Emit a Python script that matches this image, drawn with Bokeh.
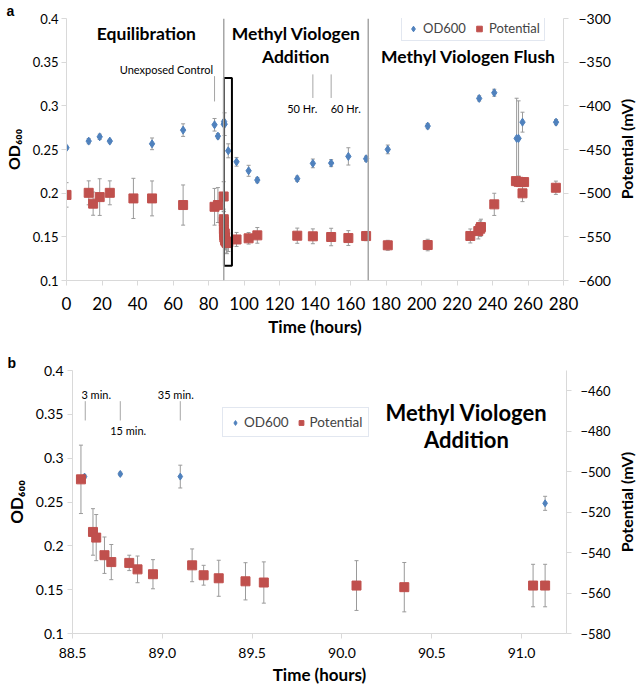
import numpy as np
from bokeh.plotting import figure
from bokeh.models import (Range1d, LinearAxis, FixedTicker, CustomJSTickFormatter,
                          PrintfTickFormatter, Span, Label, Legend, LegendItem)
from bokeh.layouts import column, row
from bokeh.embed import file_html
from bokeh.resources import INLINE

# ---------------- data ----------------
# Panel b (zoom on methyl viologen addition); these points also appear in panel a
b_od_hours = [88.567, 88.766, 89.100, 91.131]
b_od = [0.279, 0.282, 0.279, 0.2485]
b_od_err = [0.002, 0.002, 0.013, 0.008]
b_pot_hours = [88.547, 88.614, 88.632, 88.678, 88.716, 88.816, 88.862, 88.948, 89.166,
               89.230, 89.314, 89.463, 89.565, 90.081, 90.347, 91.064, 91.131]
b_pot = [-503.8, -529.8, -532.6, -541.3, -544.7, -545.1, -548.3, -550.7, -546.3,
         -551.2, -552.7, -554.2, -554.8, -556.3, -557.1, -556.3, -556.3]
b_pot_err = [16.9, 11.5, 11.4, 9.0, 8.7, 3.8, 6.6, 7.2, 8.1, 4.9, 8.9, 9.2, 10.2,
             12.3, 12.2, 10.5, 10.5]

# Panel a, remaining points
a_od_hours = [0, 12.5, 18.7, 24.4, 48.2, 65.7, 83.4, 85.3, 95.8, 102.6, 107.5, 130,
              138.8, 149.1, 158.8, 168.8, 181, 203.5, 232.5, 241, 253.6, 254.7, 256.9, 275.8]
a_od = [0.252, 0.2596, 0.2645, 0.2596, 0.2565, 0.2722, 0.2783, 0.2653, 0.2359, 0.2256,
        0.215, 0.2165, 0.2341, 0.2344, 0.2421, 0.2394, 0.2501, 0.2768, 0.3085, 0.315,
        0.2627, 0.2627, 0.2813, 0.2813]
a_od_err = [0.002, 0.003, 0.003, 0.002, 0.0067, 0.0072, 0.0072, 0.003, 0.005, 0.0063,
            0.003, 0.003, 0.005, 0.004, 0.0099, 0.003, 0.005, 0.003, 0.003, 0.004,
            0.046, 0.043, 0.0114, 0.003]
a_pot_hours = [0, 12.5, 15, 18.7, 24.4, 37.7, 48.2, 65.7, 83.4, 85.3, 95.8, 102.6, 107.5,
               130, 138.8, 149.1, 158.8, 168.8, 181, 203.5, 227.5, 232, 233.1, 233.5, 241,
               253.2, 254.7, 256, 257.8, 256.9, 275.7]
a_pot = [-502, -499.6, -512, -504.5, -499.6, -506, -506, -513.6, -515.6, -513.6, -553,
         -551.7, -548.3, -548.7, -549.4, -550.2, -551.4, -549.1, -559.7, -559.4, -549,
         -543.4, -540.7, -538.8, -512.8, -486.2, -487, -487.3, -487.3, -500.2, -493.8]
a_pot_err = [14, 13.7, 13.3, 21, 13.7, 23, 20, 23, 21, 20, 8, 6.6, 9, 8.7, 8.5, 10, 8.5,
             5.3, 5.7, 6.6, 8, 9, 9, 9, 12.7, 3, 3, 3, 3, 9.5, 7.6]

od_ticks = [0.1, 0.15, 0.2, 0.25, 0.3, 0.35, 0.4]
a_hour_ticks = list(range(0, 281, 20))
a_pot_ticks = list(range(-600, -299, 50))
b_hour_ticks = [88.5, 89.0, 89.5, 90.0, 90.5, 91.0]
b_pot_ticks = list(range(-580, -459, 20))

# phase boundaries and annotations (panel a)
a_phase_lines = [88.6, 170]
a_box = dict(left=88.7, right=93.2, bottom=0.117, top=0.332)
a_sections = [("Equilibration", 45, 0.383), ("Methyl Viologen", 129.4, 0.383),
              ("Addition", 129.1, 0.357), ("Methyl Viologen Flush", 226.4, 0.357)]
a_notes = [("Unexposed Control", 56.3, 0.342), ("50 Hr.", 132.8, 0.297), ("60 Hr.", 157.3, 0.297)]
a_note_lines = [(83.4, 0.305, 0.334), (138.8, 0.309, 0.336), (149.1, 0.309, 0.336)]
# panel b annotations
b_sections = [("Methyl Viologen", 90.693, 0.3525), ("Addition", 90.693, 0.3213)]
b_notes = [("3 min.", 88.632, 0.3727), ("15 min.", 88.81, 0.331), ("35 min.", 89.075, 0.3727)]
b_note_lines = [(88.571, 0.343, 0.365), (88.766, 0.343, 0.365), (89.100, 0.343, 0.365)]

BLUE = "#4F81BD"
RED = "#C0504D"
ERR = "#9a9a9a"
AXC = "#d9d9d9"
FONT = "Lato"
MAIN_W = 614
SIDE_W = 638 - MAIN_W

od_fmt = CustomJSTickFormatter(code="return String(Math.round(tick*100)/100)")


def style_axis(ax, size):
    ax.axis_line_color = AXC
    ax.major_tick_line_color = AXC
    ax.minor_tick_line_color = None
    ax.major_tick_out = 5
    ax.major_tick_in = 0
    ax.major_label_text_font = FONT
    ax.major_label_text_font_size = size
    ax.major_label_text_color = "#000000"
    ax.axis_label_text_font = FONT
    ax.axis_label_text_font_style = "bold"
    ax.axis_label_text_font_size = "17px"
    ax.axis_label_text_color = "#000000"


def errbars(p, x, y, e, rng="default"):
    lo = [a - b for a, b in zip(y, e)]
    hi = [a + b for a, b in zip(y, e)]
    p.segment(x0=x, y0=lo, x1=x, y1=hi, line_color=ERR, line_width=1, y_range_name=rng)
    p.scatter(x=list(x) + list(x), y=lo + hi, marker="dash", size=4, line_color=ERR,
              line_width=1, y_range_name=rng)


def base_fig(height, xr, yr, pr, borders, tag, tag_offset):
    p = figure(width=MAIN_W, height=height, x_range=xr, y_range=yr,
               output_backend="svg", toolbar_location=None,
               min_border_left=borders[0], min_border_right=borders[1],
               min_border_top=borders[2], min_border_bottom=borders[3])
    if "frame_align" in p.properties():
        p.frame_align = False
    p.extra_y_ranges = {"pot": pr}
    p.xgrid.visible = False
    p.ygrid.visible = False
    p.outline_line_color = None
    p.background_fill_color = "white"
    p.border_fill_color = "white"
    p.title.text = tag
    p.title.align = "left"
    p.title.offset = tag_offset
    p.title.standoff = 0
    p.title.text_font = "Liberation Sans"
    p.title.text_font_style = "bold"
    p.title.text_font_size = "14px"
    p.title.text_color = "#000000"
    return p


def right_axis(p, ticks, size, standoff):
    ax = LinearAxis(y_range_name="pot", ticker=FixedTicker(ticks=ticks))
    style_axis(ax, size)
    ax.major_label_standoff = standoff
    p.add_layout(ax, "right")
    return ax


def side_title(height, top, bottom, text, offset):
    # narrow strip carrying the right-hand axis title, read bottom-to-top
    d = figure(width=SIDE_W, height=height, toolbar_location=None, output_backend="svg",
               x_axis_location=None, y_axis_location=None, title_location="left",
               min_border_left=0, min_border_right=0, min_border_top=top,
               min_border_bottom=bottom)
    if "frame_align" in d.properties():
        d.frame_align = False
    d.xgrid.visible = False
    d.ygrid.visible = False
    d.outline_line_color = None
    d.title.text = text
    d.title.align = "center"
    d.title.offset = offset
    d.title.standoff = 0
    d.title.text_font = FONT
    d.title.text_font_style = "bold"
    d.title.text_font_size = "16px"
    d.title.text_color = "#000000"
    return d


# ---------------- panel a ----------------
pa = base_fig(340, Range1d(0, 280), Range1d(0.1, 0.4), Range1d(-600, -300),
              (65, MAIN_W - 563, 17, 60), "a", -60)
pa.xaxis.ticker = FixedTicker(ticks=a_hour_ticks)
pa.yaxis.ticker = FixedTicker(ticks=od_ticks)
pa.yaxis.formatter = od_fmt
style_axis(pa.xaxis[0], "17px")
style_axis(pa.yaxis[0], "13px")
pa.xaxis.axis_label = "Time (hours)"
pa.yaxis.axis_label = "OD₆₀₀"
pa.yaxis.axis_label_text_font_size = "16px"
pa.xaxis.major_label_standoff = 11
pa.xaxis.axis_label_standoff = 3
pa.yaxis.major_label_standoff = 3
pa.yaxis.axis_label_standoff = 7
right_axis(pa, a_pot_ticks, "14px", 10)

for loc in a_phase_lines:
    pa.add_layout(Span(location=loc, dimension="height", line_color="#a6a6a6", line_width=1.5))
for (x, y0, y1) in a_note_lines:
    pa.segment(x0=[x], y0=[y0], x1=[x], y1=[y1], line_color="#a6a6a6", line_width=1)

od_x = a_od_hours[:8] + b_od_hours + a_od_hours[8:]
od_y = a_od[:8] + b_od + a_od[8:]
od_e = a_od_err[:8] + b_od_err + a_od_err[8:]
pot_x = a_pot_hours[:10] + b_pot_hours + a_pot_hours[10:]
pot_y = a_pot[:10] + b_pot + a_pot[10:]
pot_e = a_pot_err[:10] + b_pot_err + a_pot_err[10:]

errbars(pa, od_x, od_y, od_e)
errbars(pa, pot_x, pot_y, pot_e, "pot")
r_od_a = pa.scatter(od_x, od_y, marker="diamond", size=8, fill_color=BLUE, line_color=BLUE)
r_pot_a = pa.scatter(pot_x, pot_y, marker="square", size=9, fill_color=RED, line_color=RED,
                     y_range_name="pot")
pa.quad(left=[a_box["left"]], right=[a_box["right"]], bottom=[a_box["bottom"]],
        top=[a_box["top"]], fill_color=None, line_color="black", line_width=2)

for (t, x, y) in a_sections:
    pa.add_layout(Label(x=x, y=y, text=t, text_align="center", text_baseline="middle",
                        text_font=FONT, text_font_style="bold", text_font_size="17.5px",
                        text_color="#000000"))
for (t, x, y) in a_notes:
    pa.add_layout(Label(x=x, y=y, text=t, text_align="center", text_baseline="middle",
                        text_font=FONT, text_font_size="11px", text_color="#000000"))

leg_a = Legend(items=[LegendItem(label="OD600", renderers=[r_od_a]),
                      LegendItem(label="Potential", renderers=[r_pot_a])],
               location=(335, 239), orientation="horizontal",
               glyph_width=14, glyph_height=15, label_standoff=3, spacing=6,
               padding=4, margin=0, label_text_font=FONT, label_text_font_size="13px",
               label_height=15, border_line_color="#c5d0e2", border_line_width=1,
               background_fill_color="white", background_fill_alpha=1)
pa.add_layout(leg_a)
sa = side_title(340, 17, 60, "Potential (mV)", 0)

# ---------------- panel b ----------------
pb = base_fig(348, Range1d(88.5, 91.25), Range1d(0.1, 0.4), Range1d(-580, -450),
              (72, MAIN_W - 566, 30, 55), "b", -65)
pb.xaxis.ticker = FixedTicker(ticks=b_hour_ticks)
pb.xaxis.formatter = PrintfTickFormatter(format="%.1f")
pb.yaxis.ticker = FixedTicker(ticks=od_ticks)
pb.yaxis.formatter = od_fmt
style_axis(pb.xaxis[0], "14px")
style_axis(pb.yaxis[0], "14px")
pb.xaxis.axis_label = "Time (hours)"
pb.yaxis.axis_label = "OD₆₀₀"
pb.xaxis.major_label_standoff = 9
pb.xaxis.axis_label_standoff = 3
pb.yaxis.major_label_standoff = 4
pb.yaxis.axis_label_standoff = 6
right_axis(pb, b_pot_ticks, "13px", 9)

for (x, y0, y1) in b_note_lines:
    pb.segment(x0=[x], y0=[y0], x1=[x], y1=[y1], line_color="#a6a6a6", line_width=1)

errbars(pb, b_od_hours, b_od, b_od_err)
errbars(pb, b_pot_hours, b_pot, b_pot_err, "pot")
r_od_b = pb.scatter(b_od_hours, b_od, marker="diamond", size=7, fill_color=BLUE, line_color=BLUE)
r_pot_b = pb.scatter(b_pot_hours, b_pot, marker="square", size=9, fill_color=RED,
                     line_color=RED, y_range_name="pot")

for (t, x, y) in b_sections:
    pb.add_layout(Label(x=x, y=y, text=t, text_align="center", text_baseline="middle",
                        text_font=FONT, text_font_style="bold", text_font_size="22px",
                        text_color="#000000"))
for (t, x, y) in b_notes:
    pb.add_layout(Label(x=x, y=y, text=t, text_align="center", text_baseline="middle",
                        text_font=FONT, text_font_size="11px", text_color="#000000"))

leg_b = Legend(items=[LegendItem(label="OD600", renderers=[r_od_b]),
                      LegendItem(label="Potential", renderers=[r_pot_b])],
               location=(150, 196), orientation="horizontal",
               glyph_width=12, glyph_height=15, label_standoff=3, spacing=6,
               padding=6, margin=0, label_text_font=FONT, label_text_font_size="13.5px",
               label_height=16, border_line_color="#c5d0e2", border_line_width=1,
               background_fill_color="white", background_fill_alpha=1)
pb.add_layout(leg_b)
sb = side_title(348, 30, 55, "Potential (mV)", -20)

layout = column(row(pa, sa, spacing=0), row(pb, sb, spacing=0), spacing=0)
open("out.html", "w").write(file_html(layout, INLINE))
